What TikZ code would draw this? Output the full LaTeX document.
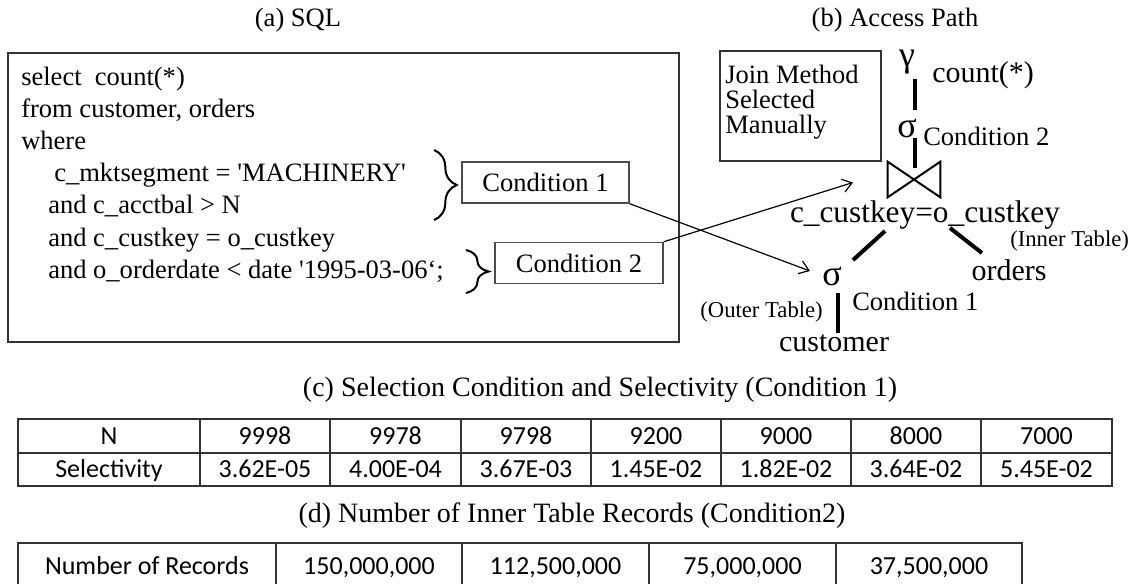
\documentclass[tikz,border=0pt]{standalone}
\usepackage{fontspec}
\setmainfont{Liberation Serif}
\newfontfamily\sqlfont{Liberation Serif}
\newfontfamily\tabfont{Carlito}
\usetikzlibrary{arrows.meta,decorations.pathreplacing}

\begin{document}
\begin{tikzpicture}[x=0.75pt,y=-0.75pt,
  ttl/.style={inner sep=0pt, font=\fontsize{19.9pt}{24pt}\selectfont},
  sqlline/.style={anchor=base west, inner sep=0pt, font=\sqlfont\fontsize{19.9pt}{24pt}\selectfont},
  condbox/.style={draw=black!70, line width=1.1pt, inner sep=0pt,
    minimum height=30.75pt, font=\fontsize{19.9pt}{24pt}\selectfont},
  lbl/.style={inner sep=0pt, font=\fontsize{22.5pt}{26pt}\selectfont},
  cond/.style={inner sep=0pt, font=\fontsize{19.9pt}{24pt}\selectfont},
  small/.style={inner sep=0pt, font=\fontsize{17pt}{20pt}\selectfont},
  greek/.style={inner sep=0pt, font=\fontsize{27pt}{30pt}\selectfont},
  treeedge/.style={line width=3pt},
  ptr/.style={line width=0.9pt, -{Straight Barb[length=7pt,width=10pt]}},
  cell/.style={anchor=base, inner sep=0pt, font=\tabfont\fontsize{19.5pt}{22pt}\selectfont},
  gridline/.style={line width=0.9pt, draw=black!80},
]
\useasboundingbox (0,0) rectangle (1139,583);
\clip (0,0) rectangle (1139,583);

% ---------- (a) SQL ----------
\node[ttl] (ta) at (298,20) {(a) SQL};
\draw[draw=black!80, line width=1.3pt] (8,53) rectangle (679,342);
\node[sqlline] (q1) at (21,85)  {select\ \ count(*)};
\node[sqlline] (q2) at (21,117) {from customer, orders};
\node[sqlline] (q3) at (21,149) {where};
\node[sqlline] (q4) at (54,181) {c\_mktsegment = 'MACHINERY'};
\node[sqlline] (q5) at (48,213) {and c\_acctbal > N};
\node[sqlline] (q6) at (48,246) {and c\_custkey = o\_custkey};
\node[sqlline] (q7) at (48,278) {and o\_orderdate < date '1995-03-06‘;};

% braces grouping the predicates
\draw[line width=1.5pt, decorate, decoration={brace, amplitude=17pt, aspect=0.5}]
  (434,150) -- (434,220);
\draw[line width=1.5pt, decorate, decoration={brace, amplitude=17pt, aspect=0.5}]
  (466,250) -- (466,293);

\node[condbox, minimum width=125.25pt] (c1) at (545.5,182.5) {Condition 1};
\node[condbox, minimum width=126pt] (c2) at (579,263) {Condition 2};

% ---------- (b) Access Path ----------
\node[ttl] (tb) at (895,20) {(b) Access Path};
\node[draw=black!80, line width=1.1pt, minimum width=120.75pt, minimum height=82.5pt,
      inner sep=0pt] (jm) at (800.5,106) {};
\node[anchor=north west, inner sep=0pt, align=left,
      font=\fontsize{19.9pt}{18.75pt}\selectfont] (jmt) at (725,65)
  {Join Method\\Selected\\Manually};

\node[greek] (gam) at (907,62) {γ};
\node[lbl, anchor=west] (cnt) at (932,75) {count(*)};
\node[greek] (sig2) at (907,128) {σ};
\node[cond, anchor=west] (c2l) at (923,136) {Condition 2};
\node[minimum width=39pt, minimum height=26.25pt, inner sep=0pt] (join) at (914,179.5) {};
\draw[line width=1.5pt, line join=miter]
  (join.north west) -- (join.south west) -- (join.center) -- cycle
  (join.north east) -- (join.south east) -- (join.center) -- cycle;
\node[inner sep=0pt, font=\fontsize{23.5pt}{27pt}\selectfont] (jk) at (925,215) {c\_custkey=o\_custkey};
\node[small, anchor=west] (inner) at (1010,241) {(Inner Table)};
\node[lbl] (ord) at (1009,270) {orders};
\node[greek] (sig1) at (832,276) {σ};
\node[cond, anchor=west] (c1l) at (852,301) {Condition 1};
\node[small, anchor=east] (outer) at (823,312) {(Outer Table)};
\node[lbl] (cust) at (834,343) {customer};

\draw[treeedge] ([shift={(8,17)}]gam.center) -- ([shift={(8,-18)}]sig2.center);
\draw[treeedge] ([shift={(8,10)}]sig2.center) -- ([shift={(1,-12)}]join.center);
\draw[treeedge] ([shift={(-40,16)}]jk.center) -- ([shift={(21,-16)}]sig1.center);
\draw[treeedge] ([shift={(25,13)}]jk.center) -- ([shift={(-27,-17)}]ord.center);
\draw[treeedge] ([shift={(6,17)}]sig1.center) -- ([shift={(4,-10)}]cust.center);

\draw[ptr] (c1.south east) -- ([shift={(-22,-5)}]sig1.center);
\draw[ptr] (c2.north east) -- ([shift={(-61,3)}]join.center);

% ---------- (c) selectivity table ----------
\node[inner sep=0pt, font=\fontsize{21pt}{25pt}\selectfont] (tc) at (600,390)
  {(c) Selection Condition and Selectivity (Condition 1)};
\draw[gridline] (18,419) rectangle (1112,486);
\draw[gridline] (18,453) -- (1112,453);
\foreach \x in {200,330,461,591,721,851,981} \draw[gridline] (\x,419) -- (\x,486);
\foreach \x/\a/\b [count=\i] in {109/N/Selectivity, 265/9998/3.62E-05, 395.5/9978/4.00E-04,
    526/9798/3.67E-03, 656/9200/1.45E-02, 786/9000/1.82E-02, 916/8000/3.64E-02,
    1046.5/7000/5.45E-02} {
  \node[cell] (n\i) at (\x,444) {\a};
  \node[cell] (s\i) at (\x,477.5) {\b};
}

% ---------- (d) inner table size ----------
\node[inner sep=0pt, font=\fontsize{21pt}{25pt}\selectfont] (td) at (572,516)
  {(d) Number of Inner Table Records (Condition2)};
\draw[gridline] (18,600) -- (18,543) -- (1022,543) -- (1022,600);
\foreach \x in {276,462,649,836} \draw[gridline] (\x,543) -- (\x,600);
\foreach \x/\a [count=\i] in {147/Number of Records, 369/{150,000,000}, 555.5/{112,500,000},
    742.5/{75,000,000}, 929/{37,500,000}} {
  \node[cell] (r\i) at (\x,574) {\a};
}
\end{tikzpicture}
\end{document}
